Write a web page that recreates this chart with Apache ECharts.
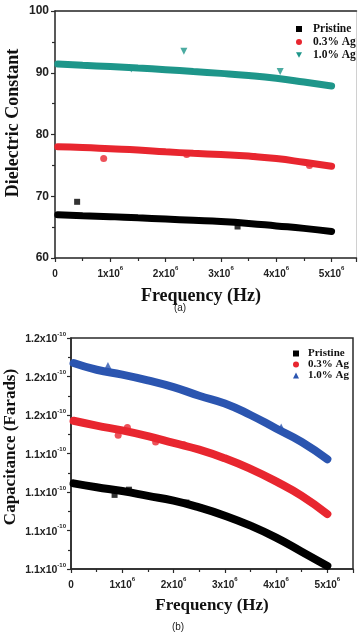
<!DOCTYPE html>
<html><head><meta charset="utf-8">
<script src="https://cdn.jsdelivr.net/npm/echarts@6/dist/echarts.min.js"></script>
<style>html,body{margin:0;padding:0;background:#fff}#c{width:359px;height:636px}</style>
</head><body><div id="c"></div>
<script>
// ---- data (a): dielectric constant ----
const freqBand = [0.05e6, 0.5e6, 1e6, 1.5e6, 2e6, 2.5e6, 3e6, 3.5e6, 4e6, 4.5e6, 5e6];
const pristineA = [67.0, 66.85, 66.7, 66.5, 66.3, 66.1, 65.9, 65.6, 65.2, 64.8, 64.3];
const ag03A = [78.0, 77.9, 77.7, 77.5, 77.2, 76.95, 76.75, 76.5, 76.1, 75.5, 74.85];
const ag10A = [91.4, 91.2, 91.0, 90.75, 90.5, 90.2, 89.9, 89.55, 89.1, 88.5, 87.85];
const pristineAOutX = [0.4e6, 3.3e6];
const pristineAOutY = [69.1, 65.1];
const ag03AOutX = [0.88e6, 2.38e6, 3.6e6, 4.6e6];
const ag03AOutY = [76.1, 76.75, 76.45, 75.0];
const ag10AOutX = [1.38e6, 2.33e6, 4.07e6];
const ag10AOutY = [90.6, 93.5, 90.2];
// ---- data (b): capacitance, in units of 1e-10 F ----
const pristineB = [1.1245, 1.1225, 1.1205, 1.118, 1.1155, 1.112, 1.1077, 1.1025, 1.0963, 1.089, 1.0816];
const ag03B = [1.157, 1.1545, 1.152, 1.149, 1.1455, 1.142, 1.1375, 1.132, 1.1255, 1.118, 1.1085];
const ag10B = [1.187, 1.1835, 1.181, 1.178, 1.1745, 1.170, 1.166, 1.160, 1.153, 1.146, 1.137];
const pristineBOutX = [0.85e6, 1.13e6, 2.25e6];
const pristineBOutY = [1.1185, 1.1212, 1.1145];
const ag03BOutX = [0.92e6, 1.1e6, 1.65e6, 2.2e6];
const ag03BOutY = [1.1495, 1.1535, 1.146, 1.1445];
const ag10BOutX = [0.72e6, 4.1e6];
const ag10BOutY = [1.1855, 1.1535];
const seriesNames = ['Pristine', '0.3% Ag', '1.0% Ag'];

const zip = (xs, ys) => xs.map((x, i) => [x, ys[i]]);
const serif = 'Liberation Serif';
const sans = 'Liberation Sans';
const BLACK = '#000000', RED = '#e8262f', TEAL = '#1e968a', BLUE = '#2b55b0';
const TRI_DOWN = 'path://M0,0L10,0L5,9Z';

function xLabel(v) {
  if (v === 0) return '{a|0}';
  const n = v / 1e6;
  if (Math.abs(n - Math.round(n)) < 1e-6) return '{a|' + Math.round(n) + 'x10}{s|6}';
  return '';
}
const xRich = {
  a: {fontFamily: sans, fontWeight: 'bold', fontSize: 10, color: '#222', lineHeight: 14, verticalAlign: 'bottom'},
  s: {fontFamily: sans, fontWeight: 'bold', fontSize: 6, color: '#222', lineHeight: 14, verticalAlign: 'top'}
};
const yRichB = {
  a: {fontFamily: sans, fontWeight: 'bold', fontSize: 10.5, color: '#222', lineHeight: 14, verticalAlign: 'bottom'},
  s: {fontFamily: sans, fontWeight: 'bold', fontSize: 6, color: '#222', lineHeight: 14, verticalAlign: 'top'}
};
const axLine = {show: true, lineStyle: {color: '#2a2a2a', width: 1.5}};
const tick = {show: true, inside: false, length: 4, lineStyle: {color: '#2a2a2a', width: 1.2}};
const minor = {show: true, splitNumber: 2, length: 3, lineStyle: {color: '#2a2a2a', width: 1.2}};

function band(name, xi, yi, data, color, w) {
  return {name, type: 'line', xAxisIndex: xi, yAxisIndex: yi, data, smooth: true, showSymbol: false,
    lineStyle: {color, width: w, cap: 'round'}, itemStyle: {color}, z: 2, silent: true};
}
function pts(name, xi, yi, data, color, symbol, size) {
  return {name, type: 'scatter', xAxisIndex: xi, yAxisIndex: yi, data, symbol, symbolSize: size,
    itemStyle: {color}, z: 3, silent: true};
}
function legendText(size, pad) {
  return {rich: {t: {fontFamily: serif, fontWeight: 'bold', fontSize: size, color: '#111', lineHeight: 13, padding: [0, 0, 0, pad]}}};
}

const option = {
  animation: false,
  grid: [
    {left: 55, right: 2.5, top: 11, bottom: 378, show: true, borderColor: '#d0d0d0', borderWidth: 1},
    {left: 71, right: 6, top: 338, bottom: 67, show: true, borderColor: '#2a2a2a', borderWidth: 1.5}
  ],
  xAxis: [
    {gridIndex: 0, type: 'value', min: 0, max: 5.45e6, interval: 1e6, axisLine: axLine, axisTick: tick, minorTick: minor,
      splitLine: {show: false}, axisLabel: {margin: 7, formatter: xLabel, rich: xRich, showMaxLabel: false}},
    {gridIndex: 0, type: 'value', position: 'top', min: 0, max: 5.45e6, axisLine: axLine, axisTick: {show: false},
      axisLabel: {show: false}, splitLine: {show: false}},
    {gridIndex: 1, type: 'value', min: 0, max: 5.5e6, interval: 1e6, axisLine: axLine, axisTick: tick, minorTick: minor,
      splitLine: {show: false}, axisLabel: {margin: 7, formatter: xLabel, rich: xRich, showMaxLabel: false}}
  ],
  yAxis: [
    {gridIndex: 0, type: 'value', min: 60, max: 100, interval: 10, axisLine: axLine, axisTick: tick, minorTick: minor,
      splitLine: {show: false},
      axisLabel: {margin: 6, fontFamily: sans, fontWeight: 'bold', fontSize: 12, color: '#222'}},
    {gridIndex: 1, type: 'value', min: 1.08, max: 1.20, interval: 0.02, axisLine: axLine, axisTick: tick, minorTick: minor,
      splitLine: {show: false},
      axisLabel: {margin: 5, formatter: v => '{a|' + v.toFixed(1) + 'x10}{s|-10}', rich: yRichB}}
  ],
  legend: [
    {orient: 'vertical', left: 291, top: 18, itemWidth: 6, itemHeight: 6, itemGap: 1,
      data: [{name: 'Pristine', icon: 'rect'}, {name: '0.3% Ag', icon: 'circle'}, {name: '1.0% Ag', icon: TRI_DOWN}],
      formatter: n => '{t|' + n + '}',
      textStyle: legendText(11.5, 6)},
    {orient: 'vertical', left: 288, top: 343, itemWidth: 6, itemHeight: 6, itemGap: 0,
      data: [{name: 'Pristine ', icon: 'rect'}, {name: '0.3% Ag ', icon: 'circle'}, {name: '1.0% Ag ', icon: 'triangle'}],
      formatter: n => '{t|' + n.trim() + '}',
      textStyle: legendText(11, 4)}
  ],
  series: [
    band('Pristine', 0, 0, zip(freqBand, pristineA), BLACK, 7),
    band('0.3% Ag', 0, 0, zip(freqBand, ag03A), RED, 7),
    band('1.0% Ag', 0, 0, zip(freqBand, ag10A), TEAL, 7),
    pts('Pristine', 0, 0, zip(pristineAOutX, pristineAOutY), BLACK, 'rect', 6),
    pts('0.3% Ag', 0, 0, zip(ag03AOutX, ag03AOutY), RED, 'circle', 7),
    pts('1.0% Ag', 0, 0, zip(ag10AOutX, ag10AOutY), TEAL, TRI_DOWN, 7),
    band('Pristine ', 2, 1, zip(freqBand, pristineB), BLACK, 8),
    band('0.3% Ag ', 2, 1, zip(freqBand, ag03B), RED, 8),
    band('1.0% Ag ', 2, 1, zip(freqBand, ag10B), BLUE, 8),
    pts('Pristine ', 2, 1, zip(pristineBOutX, pristineBOutY), BLACK, 'rect', 6),
    pts('0.3% Ag ', 2, 1, zip(ag03BOutX, ag03BOutY), RED, 'circle', 7),
    pts('1.0% Ag ', 2, 1, zip(ag10BOutX, ag10BOutY), BLUE, 'triangle', 8)
  ],
  graphic: [
    {type: 'text', x: 201, y: 296, style: {text: 'Frequency (Hz)', fontFamily: serif, fontWeight: 'bold', fontSize: 18, fill: '#111', align: 'center', verticalAlign: 'middle'}},
    {type: 'text', x: 13, y: 123, rotation: Math.PI / 2, style: {text: 'Dielectric Constant', fontFamily: serif, fontWeight: 'bold', fontSize: 18, fill: '#111', align: 'center', verticalAlign: 'middle'}},
    {type: 'text', x: 180, y: 308, style: {text: '(a)', fontFamily: sans, fontSize: 10, fill: '#222', align: 'center', verticalAlign: 'middle'}},
    {type: 'text', x: 212, y: 606, style: {text: 'Frequency (Hz)', fontFamily: serif, fontWeight: 'bold', fontSize: 17, fill: '#111', align: 'center', verticalAlign: 'middle'}},
    {type: 'text', x: 11, y: 447, rotation: Math.PI / 2, style: {text: 'Capacitance (Farads)', fontFamily: serif, fontWeight: 'bold', fontSize: 17, fill: '#111', align: 'center', verticalAlign: 'middle'}},
    {type: 'text', x: 178, y: 627, style: {text: '(b)', fontFamily: sans, fontSize: 10, fill: '#222', align: 'center', verticalAlign: 'middle'}}
  ]
};
const chart = echarts.init(document.getElementById('c'), null, {renderer: 'canvas'});
chart.setOption(option);
</script>
</body></html>
